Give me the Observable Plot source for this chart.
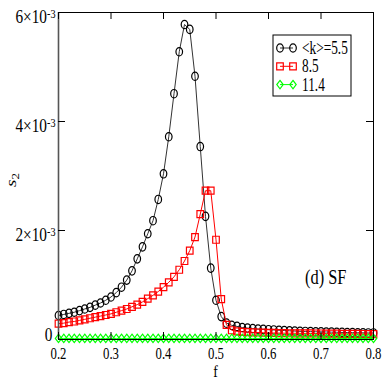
<!DOCTYPE html>
<html><head><meta charset="utf-8">
<script src="https://cdn.jsdelivr.net/npm/d3@7"></script>
<script src="https://cdn.jsdelivr.net/npm/@observablehq/plot@0.6"></script>
<style>
body{margin:0;background:#fff;}
svg text{font-family:"Liberation Serif","Times New Roman",serif;}
</style></head><body><div id="chart"></div>
<script>
// x values (fraction f)
const fValues = [0.20,0.21,0.22,0.23,0.24,0.25,0.26,0.27,0.28,0.29,0.30,0.31,0.32,0.33,0.34,0.35,0.36,0.37,0.38,0.39,0.40,
0.41,0.42,0.43,0.44,0.45,0.46,0.47,0.48,0.49,0.50,0.51,0.52,0.53,0.54,0.55,0.56,0.57,0.58,0.59,0.60,
0.61,0.62,0.63,0.64,0.65,0.66,0.67,0.68,0.69,0.70,0.71,0.72,0.73,0.74,0.75,0.76,0.77,0.78,0.79,0.80];
// s2 in units of 1e-3
const s2K55 = [0.44,0.46,0.48,0.50,0.53,0.56,0.59,0.63,0.67,0.72,0.78,0.86,0.96,1.09,1.26,1.48,1.70,1.94,2.18,2.57,3.04,
3.72,4.51,5.28,5.78,5.69,4.83,3.54,2.26,1.31,0.72,0.42,0.30,0.26,0.24,0.22,0.21,0.20,0.19,0.185,0.18,
0.175,0.17,0.165,0.16,0.155,0.15,0.148,0.145,0.142,0.14,0.138,0.135,0.133,0.13,0.128,0.126,0.124,0.122,0.12,0.12];
const s2K85 = [0.29,0.30,0.32,0.33,0.35,0.37,0.39,0.41,0.43,0.45,0.47,0.50,0.53,0.56,0.60,0.64,0.69,0.75,0.81,0.88,0.96,
1.05,1.15,1.28,1.44,1.63,1.88,2.30,2.73,2.73,1.83,0.74,0.27,0.17,0.15,0.14,0.135,0.13,0.128,0.125,0.122,
0.12,0.118,0.116,0.115,0.114,0.113,0.112,0.111,0.11,0.11,0.108,0.107,0.106,0.105,0.104,0.103,0.102,0.101,0.10,0.10];
const s2K114 = [0.02,0.02,0.02,0.02,0.02,0.02,0.02,0.02,0.02,0.02,0.02,0.02,0.02,0.02,0.02,0.02,0.02,0.02,0.02,0.02,0.02,
0.02,0.02,0.02,0.02,0.02,0.02,0.02,0.02,0.02,0.02,0.02,0.02,0.02,0.02,0.02,0.02,0.02,0.02,0.02,0.02,
0.02,0.02,0.02,0.02,0.02,0.02,0.02,0.02,0.02,0.02,0.02,0.02,0.02,0.02,0.02,0.02,0.02,0.02,0.02,0.02];
const seriesNames = ["<k>=5.5","8.5","11.4"];
const seriesColors = ["#000000","#ff0000","#00ff00"];
const lineColors = ["#333333","#ff0000","#00ff00"];
const xTicks = [0.2,0.3,0.4,0.5,0.6,0.7,0.8];
const yTicks = [0,2,4,6];
const yTickMantissa = ["0","2×10","4×10","6×10"];
const yExponent = "-3";
const panelLabel = "(d) SF";

const K = 0.5523;
const ellipseSym = {draw(ctx,size){const rx=3.3,ry=4.2;
  ctx.moveTo(rx,0);ctx.bezierCurveTo(rx,K*ry,K*rx,ry,0,ry);ctx.bezierCurveTo(-K*rx,ry,-rx,K*ry,-rx,0);
  ctx.bezierCurveTo(-rx,-K*ry,-K*rx,-ry,0,-ry);ctx.bezierCurveTo(K*rx,-ry,rx,-K*ry,rx,0);ctx.closePath();}};
const squareSym = {draw(ctx,size){const w=3.3,h=3.5;ctx.moveTo(-w,-h);ctx.lineTo(w,-h);ctx.lineTo(w,h);ctx.lineTo(-w,h);ctx.closePath();}};
const diamondSym = {draw(ctx,size){const w=3.2,h=4.2;ctx.moveTo(0,-h);ctx.lineTo(w,0);ctx.lineTo(0,h);ctx.lineTo(-w,0);ctx.closePath();}};
const symbols = [ellipseSym, squareSym, diamondSym];

const allSeries = [s2K55, s2K85, s2K114].map((vals,i)=>fValues.map((f,j)=>({f, v: vals[j], i})));

const W=382,H=382,mt=12,mb=43,ml=58,mr=9;
const fh = H-mt-mb, fw = W-ml-mr;
const tick = 7;

const marks = [];
allSeries.forEach((d,i)=>{
  marks.push(Plot.lineY(d,{x:"f",y:"v",stroke:lineColors[i],strokeWidth:1}));
  marks.push(Plot.dot(d,{x:"f",y:"v",symbol:symbols[i],r:4,stroke:seriesColors[i],strokeWidth:1.2,fill:"none"}));
});
marks.push(
  Plot.frame({stroke:"black",strokeWidth:1}),
  Plot.ruleX([0.2],{stroke:"#555",strokeWidth:1.6}),
  Plot.tickX(xTicks,{x:d=>d,insetTop:fh-tick,stroke:"black"}),
  Plot.tickX(xTicks,{x:d=>d,insetBottom:fh-tick,stroke:"black"}),
  Plot.tickY(yTicks,{y:d=>d,insetRight:fw-tick,stroke:"black"}),
  Plot.tickY(yTicks,{y:d=>d,insetLeft:fw-tick,stroke:"black"}),
  Plot.axisX(xTicks,{tickSize:0,tickPadding:7,tickFormat:d=>d.toFixed(1),fontSize:17.5,label:null}),
  Plot.axisY(yTicks,{tickSize:0,tickPadding:3,tickFormat:(d,i)=>yTickMantissa[yTicks.indexOf(d)],fontSize:18,label:null})
);

const svg = Plot.plot({
  width:W,height:H,marginTop:mt,marginBottom:mb,marginLeft:ml,marginRight:mr,
  x:{domain:[0.2,0.8]}, y:{domain:[0,6]},
  style:{fontFamily:"Liberation Serif, serif",background:"white",color:"black"},
  marks
});
document.getElementById("chart").appendChild(svg);
const s = d3.select(svg);

s.selectAll('g[aria-label="x-axis tick label"] text').each(function(){
  this.setAttribute("transform",(this.getAttribute("transform")||"")+" scale(0.73,1)");
});
s.selectAll('g[aria-label="y-axis tick label"] text').each(function(){
  const t=this.textContent;
  if(t!=="0"){
    d3.select(this).append("tspan").attr("dy","-0.45em").attr("font-size","12px").text(yExponent);
    this.setAttribute("transform",(this.getAttribute("transform")||"")+" translate(0,5)");
  } else {
    this.setAttribute("transform",(this.getAttribute("transform")||"")+" translate(-3,-4)");
  }
  this.setAttribute("transform",(this.getAttribute("transform")||"")+" scale(0.85,1)");
});

const g = s.append("g").attr("font-family","Liberation Serif, serif").attr("text-anchor","start");
// axis labels
g.append("text").attr("transform",`translate(${ml+fw/2},377) scale(0.8,1)`).attr("text-anchor","middle").attr("font-size","17px").text("f");
const yl = g.append("text").attr("transform","translate(16,180) rotate(-90) scale(1,0.8)").attr("text-anchor","middle").attr("font-size","19px");
yl.append("tspan").attr("font-style","italic").text("s");
yl.append("tspan").attr("font-size","13px").attr("dy","0.3em").text("2");
// panel label
g.append("text").attr("transform","translate(305,284) scale(0.82,1)").attr("font-size","20px").text(panelLabel);
// legend
const lx=273, ly=35;
g.append("rect").attr("x",lx).attr("y",ly).attr("width",78).attr("height",61).attr("fill","white").attr("stroke","black").attr("stroke-width",1);
seriesNames.forEach((name,i)=>{
  const y=ly+13+i*18.3;
  g.append("line").attr("x1",lx+7).attr("x2",lx+20).attr("y1",y).attr("y2",y).attr("stroke",lineColors[i]);
  [lx+7,lx+20].forEach(x=>g.append("path").attr("d",d3.symbol(symbols[i],16)()).attr("transform",`translate(${x},${y})`).attr("fill","none").attr("stroke",seriesColors[i]).attr("stroke-width",1.2));
  g.append("text").attr("transform",`translate(${lx+29},${y+6}) scale(0.74,1)`).attr("font-size","18px").text(name);
});
</script></body></html>
